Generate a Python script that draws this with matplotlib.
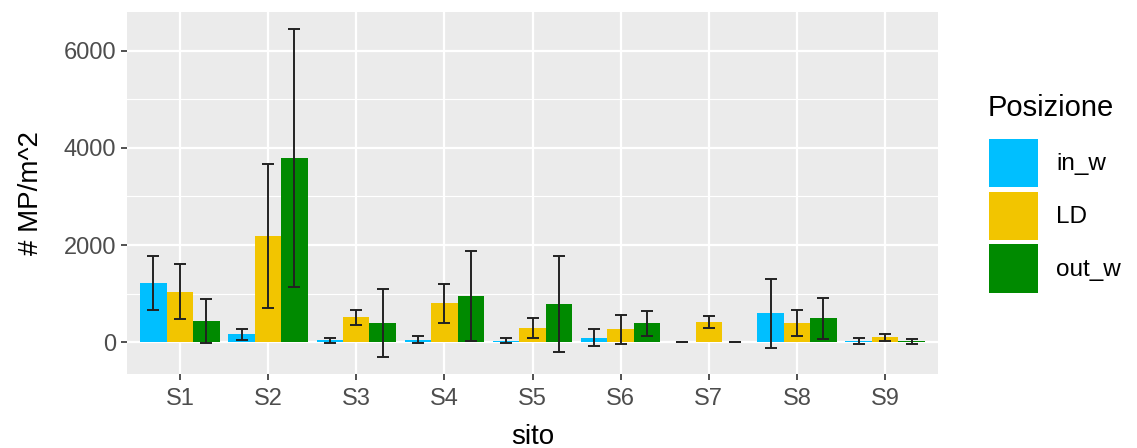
import numpy as np
import matplotlib

matplotlib.use("Agg")
import matplotlib.pyplot as plt
from matplotlib.patches import Patch

plt.rcParams["font.family"] = ["Liberation Sans", "DejaVu Sans"]

siti = ["S1", "S2", "S3", "S4", "S5", "S6", "S7", "S8", "S9"]
posizioni = ["in_w", "LD", "out_w"]

# media e deviazione standard (# MP/m^2)
in_w_mean = [1210, 158, 35, 50, 30, 90, 0, 591, 25]
in_w_sd = [557, 110, 58, 65, 58, 180, 0, 710, 60]
ld_mean = [1037, 2186, 509, 797, 282, 262, 419, 399, 100]
ld_sd = [566, 1477, 155, 400, 205, 300, 128, 270, 75]
out_w_mean = [440, 3800, 385, 948, 783, 385, 0, 489, 20]
out_w_sd = [455, 2660, 700, 920, 990, 260, 0, 416, 50]

means = [in_w_mean, ld_mean, out_w_mean]
sds = [in_w_sd, ld_sd, out_w_sd]
colori = ["#00BFFF", "#F2C500", "#008A00"]

fig = plt.figure(figsize=(11.37, 4.48), dpi=100)
ax = fig.add_axes([0.1117, 0.165, 0.7133, 0.808])
ax.set_facecolor("#EBEBEB")

x = np.arange(len(siti))
w = 0.3
for i, (m, s, c) in enumerate(zip(means, sds, colori)):
    xi = x + (i - 1) * w
    ax.bar(xi, m, w, color=c, zorder=3)
    ax.errorbar(xi, m, yerr=s, fmt="none", ecolor="#222222", elinewidth=1.4,
                capsize=4.5, capthick=1.4, zorder=4)

ax.set_xlim(-0.6, 8.6)
ax.set_ylim(-660, 6800)
ax.set_yticks([0, 2000, 4000, 6000])
ax.set_yticks([1000, 3000, 5000], minor=True)
ax.set_xticks(x)
ax.set_xticklabels(siti)
ax.grid(which="major", color="white", lw=1.6, zorder=0)
ax.grid(which="minor", axis="y", color="white", lw=0.8, zorder=0)
ax.set_axisbelow(True)
for sp in ax.spines.values():
    sp.set_visible(False)
ax.tick_params(axis="both", which="major", length=4, width=1.2, color="#333333",
               labelcolor="#4D4D4D", labelsize=17, pad=4)
ax.tick_params(axis="x", which="major", pad=6)
ax.tick_params(axis="y", which="minor", length=0)

ax.set_xlabel("sito", fontsize=20, labelpad=10)
ax.set_ylabel("# MP/m^2", fontsize=20, labelpad=14)

handles = [Patch(facecolor=c, edgecolor="none") for c in colori]
leg = fig.legend(handles, posizioni, loc="upper left",
                 bbox_to_anchor=(0.851, 0.739), frameon=False, fontsize=17.5,
                 handlelength=2.0, handleheight=2.7,
                 handletextpad=0.75, labelspacing=0.17)
fig.text(0.869, 0.76, "Posizione", fontsize=21, ha="left", va="center")

fig.savefig("out.png", dpi=100)
